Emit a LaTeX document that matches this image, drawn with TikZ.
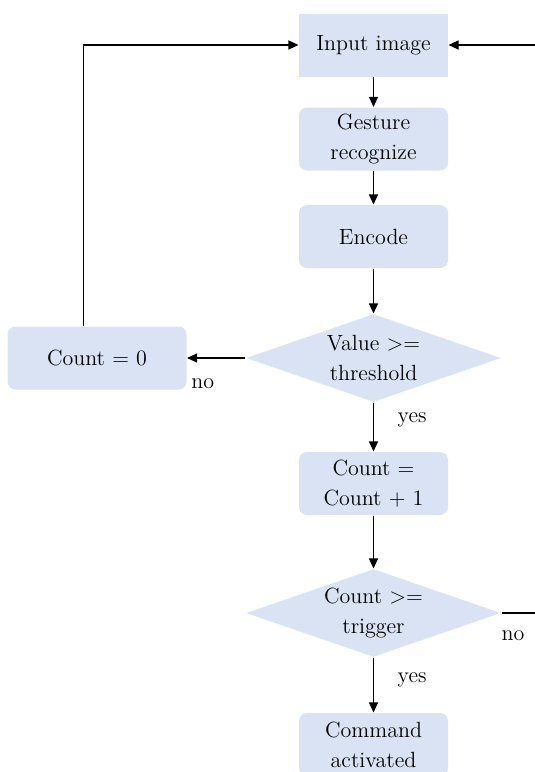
\documentclass[tikz,border=0pt]{standalone}
\usetikzlibrary{shapes.geometric, arrows.meta, positioning}

\definecolor{boxblue}{HTML}{DAE3F3}

\begin{document}
\begin{tikzpicture}[node distance=47pt, auto, font=\fontsize{11}{15}\selectfont,
    >={Triangle[length=5pt, width=4.5pt]}, line width=0.55pt,
    block/.style={rectangle, rounded corners=4pt, fill=boxblue, minimum height=31.5pt, minimum width=74.5pt, align=center, inner sep=0pt},
    decision/.style={diamond, fill=boxblue, aspect=2.9, minimum width=127.5pt, minimum height=44pt, inner sep=0pt, align=center}]

    \useasboundingbox (0,0) rectangle (267.5pt,-386pt);

    \node[block, sharp corners] (input) at (186.75pt,-22.5pt) {Input image};
    \node[block, below of=input] (gesture) {Gesture\\recognize};
    \node[block, below of=gesture, node distance=48.75pt] (encode) {Encode};
    \node[decision, below of=encode, node distance=60.75pt] (threshold) {Value >=\\threshold};
    \node[block, left of=threshold, node distance=138.25pt, minimum width=89.5pt] (reset) {Count = 0};
    \node[block, below of=threshold, node distance=62.75pt] (increment) {Count =\\Count + 1};
    \node[decision, below of=increment, node distance=64.75pt] (trigger) {Count >=\\trigger};
    \node[block, below of=trigger, node distance=65.75pt] (command) {Command\\activated};

    \coordinate (inedge) at (267.5pt,-22.5pt);
    \coordinate (noedge) at (267.5pt,-306.5pt);

    \draw[->] (input) -- (gesture);
    \draw[->] (gesture) -- (encode);
    \draw[->] (encode) -- (threshold);
    \draw[->] (threshold) -- (reset) node[pos=0.73, below=6.8pt] {no};
    \draw[->] ([xshift=-6.75pt]reset.north) |- (input);
    \draw[->] (threshold) -- (increment) node[pos=0.36, right=8.5pt] {yes};
    \draw[->] (increment) -- (trigger);
    \draw[->] (trigger) -- (command) node[pos=0.41, right=8.5pt] {yes};
    \draw (trigger.east) -- (noedge) node[pos=0.34, below=5.3pt] {no};
    \draw[->] (inedge) -- (input);
\end{tikzpicture}
\end{document}
